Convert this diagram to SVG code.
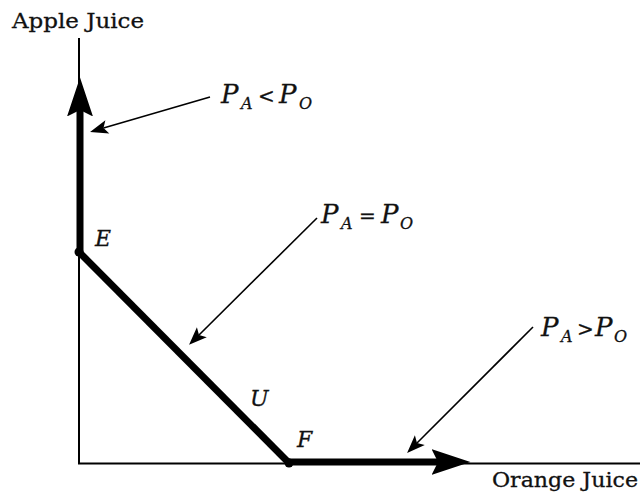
<svg xmlns="http://www.w3.org/2000/svg" width="640" height="493" viewBox="0 0 640 493">
<style>
.axis{stroke:#000;stroke-width:2;fill:none}
.thick{stroke:#000;stroke-width:7;fill:none;stroke-linecap:butt}
.ptr{stroke:#000;stroke-width:1.6;fill:none}
.lbl{font-family:"DejaVu Serif","Liberation Serif",serif;fill:#111;stroke:#111;stroke-width:0.3}
.it{font-style:italic}
</style>
<defs>
<marker id="big" markerUnits="userSpaceOnUse" markerWidth="40" markerHeight="30" refX="6" refY="0" viewBox="0 -13 37 26" orient="auto">
<path d="M0,-12 L36,0 L0,12 L6,0 Z" fill="#000"/>
</marker>
<marker id="small" markerUnits="userSpaceOnUse" markerWidth="20" markerHeight="16" refX="4" refY="0" viewBox="0 -8 19 16" orient="auto">
<path d="M0,-7 L18,0 L0,7 L4,0 Z" fill="#000"/>
</marker>
</defs>
<g id="axes">
<path class="axis" d="M79,38 L79,463.5 L640,463.5"/>
</g>
<g id="connectors">
<line class="thick" x1="80" y1="252" x2="80" y2="110" marker-end="url(#big)"/>
<line class="thick" x1="79" y1="252" x2="289" y2="463"/>
<line class="thick" x1="289" y1="462" x2="438" y2="462" marker-end="url(#big)"/>
<line class="ptr" x1="210" y1="97" x2="103.5" y2="128" marker-end="url(#small)"/>
<line class="ptr" x1="317" y1="218" x2="199" y2="335" marker-end="url(#small)"/>
<line class="ptr" x1="533" y1="327" x2="417" y2="443" marker-end="url(#small)"/>
</g>
<g id="point-E">
<circle cx="79" cy="252" r="4.5" fill="#000"/>
<text class="lbl it" x="95" y="246" font-size="22">E</text>
</g>
<g id="point-U">
<text class="lbl it" x="250" y="406" font-size="22">U</text>
</g>
<g id="point-F">
<circle cx="289" cy="463" r="4.5" fill="#000"/>
<text class="lbl it" x="297" y="447" font-size="22">F</text>
</g>
<g id="label-apple">
<text class="lbl" x="12" y="28" font-size="21" textLength="132" lengthAdjust="spacingAndGlyphs">Apple Juice</text>
</g>
<g id="label-orange">
<text class="lbl" x="492" y="487" font-size="21" textLength="146" lengthAdjust="spacingAndGlyphs">Orange Juice</text>
</g>
<g id="label-lt">
<text class="lbl" font-size="26"><tspan class="it" x="221" y="103">P</tspan><tspan class="it" x="241" y="109" font-size="16">A</tspan><tspan x="258" y="103" font-size="20">&lt;</tspan><tspan class="it" x="279" y="103">P</tspan><tspan class="it" x="299" y="109" font-size="16">O</tspan></text>
</g>
<g id="label-eq">
<text class="lbl" font-size="26"><tspan class="it" x="321" y="223">P</tspan><tspan class="it" x="341" y="229" font-size="16">A</tspan><tspan x="359" y="223" font-size="20">=</tspan><tspan class="it" x="381" y="223">P</tspan><tspan class="it" x="400" y="229" font-size="16">O</tspan></text>
</g>
<g id="label-gt">
<text class="lbl" font-size="26"><tspan class="it" x="541" y="336">P</tspan><tspan class="it" x="561" y="342" font-size="16">A</tspan><tspan x="577" y="336" font-size="20">&gt;</tspan><tspan class="it" x="595" y="336">P</tspan><tspan class="it" x="614" y="342" font-size="16">O</tspan></text>
</g>
</svg>
